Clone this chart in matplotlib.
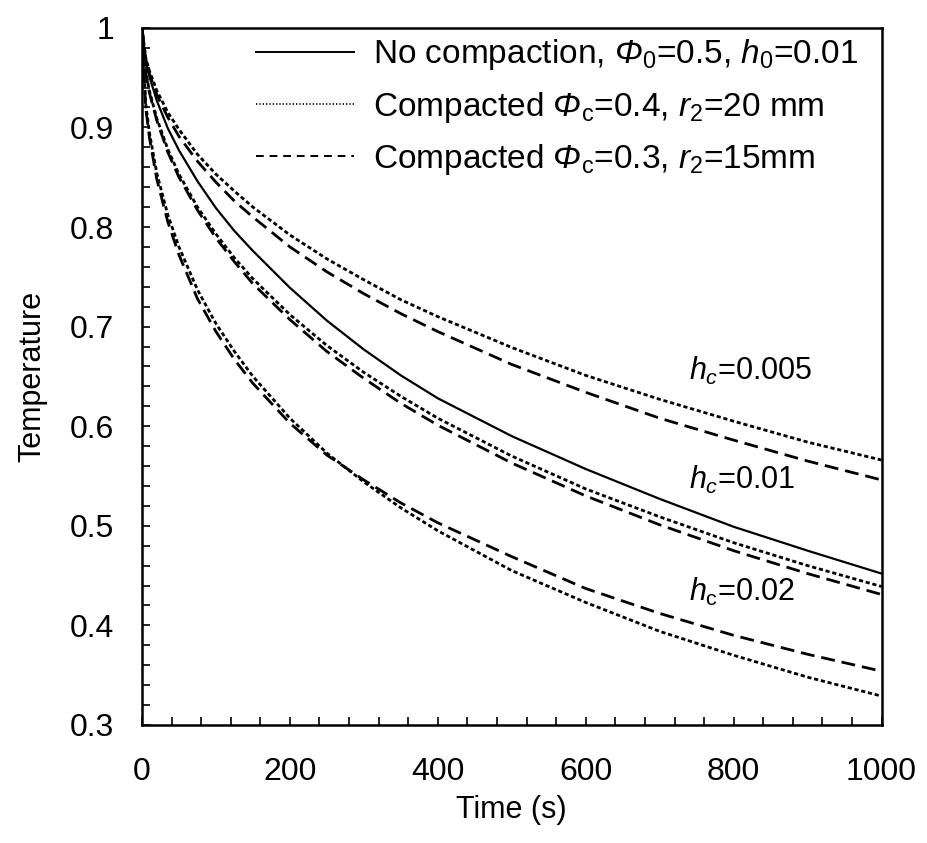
import numpy as np
import matplotlib
matplotlib.use("Agg")
from matplotlib import pyplot as plt
from matplotlib.lines import Line2D
from matplotlib.ticker import MultipleLocator, FuncFormatter

plt.rcParams['font.family'] = ['Liberation Sans', 'DejaVu Sans']
plt.rcParams['mathtext.fontset'] = 'custom'
plt.rcParams['mathtext.rm'] = 'Liberation Sans'
plt.rcParams['mathtext.it'] = 'Liberation Sans:italic'
# sf slot used for the italic capital Phi (mathtext forces capital Greek upright in 'it')
plt.rcParams['mathtext.sf'] = 'Liberation Sans:italic'

# time grid (s)
time = [0, 5, 10, 20, 35, 50, 75, 100, 125, 150, 200, 250, 300, 350, 400,
        500, 600, 700, 800, 900, 1000]

# no compaction, phi0=0.5, h0=0.01
solid_001 = [1.0, 0.967, 0.951, 0.927, 0.899, 0.877, 0.846, 0.819, 0.796, 0.776, 0.739,
             0.706, 0.677, 0.651, 0.628, 0.590, 0.557, 0.527, 0.499, 0.475, 0.452]

# compacted phi_c=0.4, r2=20 mm (hc = 0.005, 0.01, 0.02)
dot_0005 = [1.0, 0.970, 0.957, 0.937, 0.915, 0.898, 0.873, 0.853, 0.836, 0.820, 0.792,
            0.768, 0.747, 0.727, 0.710, 0.679, 0.651, 0.627, 0.605, 0.584, 0.566]
dot_001 = [1.0, 0.956, 0.937, 0.909, 0.878, 0.853, 0.820, 0.793, 0.769, 0.748, 0.712,
           0.681, 0.654, 0.630, 0.608, 0.570, 0.537, 0.509, 0.483, 0.460, 0.439]
dot_002 = [1.0, 0.924, 0.895, 0.854, 0.812, 0.780, 0.737, 0.703, 0.675, 0.650, 0.608,
           0.573, 0.544, 0.518, 0.495, 0.455, 0.423, 0.394, 0.370, 0.348, 0.329]

# compacted phi_c=0.3, r2=15 mm (hc = 0.005, 0.01, 0.02)
dash_0005 = [1.0, 0.969, 0.954, 0.933, 0.910, 0.891, 0.866, 0.845, 0.826, 0.810, 0.780,
             0.755, 0.733, 0.713, 0.695, 0.662, 0.634, 0.608, 0.586, 0.565, 0.546]
dash_001 = [1.0, 0.955, 0.935, 0.907, 0.875, 0.850, 0.817, 0.789, 0.765, 0.743, 0.707,
            0.675, 0.648, 0.623, 0.601, 0.563, 0.530, 0.501, 0.475, 0.452, 0.431]
dash_002 = [1.0, 0.920, 0.890, 0.848, 0.805, 0.772, 0.728, 0.695, 0.667, 0.643, 0.603,
            0.571, 0.546, 0.523, 0.503, 0.469, 0.437, 0.412, 0.390, 0.371, 0.354]

legend_labels = [
    r'No compaction, $\mathsf{\Phi}_0$=0.5, $h_0$=0.01',
    r'Compacted $\mathsf{\Phi}_\mathrm{c}$=0.4, $r_2$=20 mm',
    r'Compacted $\mathsf{\Phi}_\mathrm{c}$=0.3, $r_2$=15mm',
]

fig = plt.figure(figsize=(9.28, 8.43), dpi=100)
ax = fig.add_axes([0.153, 0.140, 0.797, 0.827])

dot_style = dict(color='black', lw=2.0, ls=(0, (1.5, 1.0)))
dash_style = dict(color='black', lw=2.0, ls=(0, (5, 2.5)))

ax.plot(time, solid_001, color='black', lw=1.6)
for series in (dot_0005, dot_001, dot_002):
    ax.plot(time, series, **dot_style)
for series in (dash_0005, dash_001, dash_002):
    ax.plot(time, series, **dash_style)

# legend samples drawn as in the original (fine dots / medium dashes)
handles = [
    Line2D([], [], color='black', lw=1.4),
    Line2D([], [], color='black', lw=1.2, ls=(0, (0.8, 1.2))),
    Line2D([], [], color='black', lw=1.4, ls=(0, (4, 3))),
]
ax.legend(handles, legend_labels, loc='upper right', bbox_to_anchor=(1.0, 1.02),
          frameon=False, fontsize=24, handlelength=2.94, handletextpad=0.57,
          labelspacing=0.52, borderaxespad=0.3)

ax.text(740, 0.655, r'$h_c$=0.005', fontsize=22, va='center')
ax.text(740, 0.546, r'$h_c$=0.01', fontsize=22, va='center')
ax.text(740, 0.434, r'$h_\mathrm{c}$=0.02', fontsize=22, va='center')

ax.set_xlim(0, 1000)
ax.set_ylim(0.3, 1.0)
ax.xaxis.set_major_locator(MultipleLocator(200))
ax.xaxis.set_minor_locator(MultipleLocator(40))
ax.yaxis.set_major_locator(MultipleLocator(0.1))
ax.yaxis.set_minor_locator(MultipleLocator(0.02))
ax.yaxis.set_major_formatter(FuncFormatter(lambda v, p: f'{v:g}'))

ax.tick_params(which='both', direction='in', length=6, width=1.2, top=False, right=False)
ax.tick_params(axis='x', which='major', labelsize=23, pad=23)
ax.tick_params(axis='y', which='major', labelsize=23, pad=20)
for sp in ax.spines.values():
    sp.set_linewidth(1.8)

ax.set_xlabel('Time (s)', fontsize=22, labelpad=6)
ax.set_ylabel('Temperature', fontsize=22, labelpad=16)

fig.savefig('out.png', dpi=100)
